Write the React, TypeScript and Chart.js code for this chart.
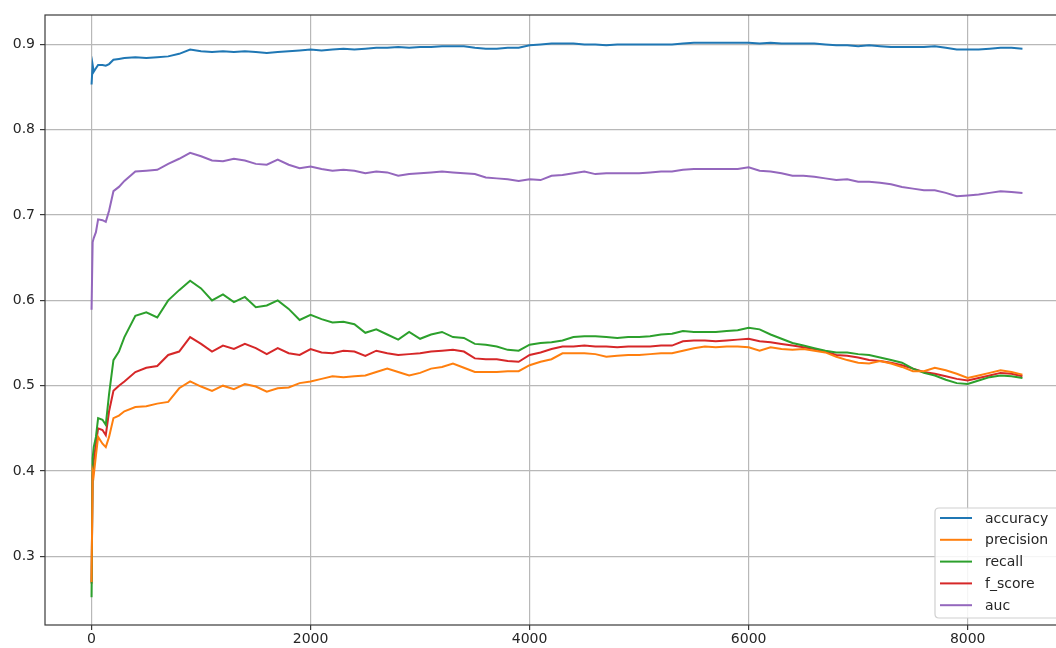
import React, { useEffect, useRef } from "react";
import { Chart, registerables } from "chart.js";

Chart.register(...registerables);

const steps = [
  0, 10, 20, 40, 60, 100, 130, 160, 200, 250,
  300, 400, 500, 600, 700, 800, 900, 1000, 1100, 1200, 1300, 1400, 1500, 1600, 1700, 1800, 1900,
  2000, 2100, 2200, 2300, 2400, 2500, 2600, 2700, 2800, 2900,
  3000, 3100, 3200, 3300, 3400, 3500, 3600, 3700, 3800, 3900,
  4000, 4100, 4200, 4300, 4400, 4500, 4600, 4700, 4800, 4900,
  5000, 5100, 5200, 5300, 5400, 5500, 5600, 5700, 5800, 5900,
  6000, 6100, 6200, 6300, 6400, 6500, 6600, 6700, 6800, 6900,
  7000, 7100, 7200, 7300, 7400, 7500, 7600, 7700, 7800, 7900,
  8000, 8100, 8200, 8300, 8400, 8500,
];

const accuracy = [
  0.853, 0.876, 0.868, 0.872, 0.876, 0.876, 0.875, 0.877, 0.882, 0.883,
  0.884, 0.885, 0.884, 0.885, 0.886, 0.889, 0.894, 0.892, 0.891, 0.892, 0.891, 0.892, 0.891, 0.890, 0.891, 0.892, 0.893,
  0.894, 0.893, 0.894, 0.895, 0.894, 0.895, 0.896, 0.896, 0.897, 0.896,
  0.897, 0.897, 0.898, 0.898, 0.898, 0.896, 0.895, 0.895, 0.896, 0.896,
  0.899, 0.900, 0.901, 0.901, 0.901, 0.900, 0.900, 0.899, 0.900, 0.900,
  0.900, 0.900, 0.900, 0.900, 0.901, 0.902, 0.902, 0.902, 0.902, 0.902,
  0.902, 0.901, 0.902, 0.901, 0.901, 0.901, 0.901, 0.900, 0.899, 0.899,
  0.898, 0.899, 0.898, 0.897, 0.897, 0.897, 0.897, 0.898, 0.896, 0.894,
  0.894, 0.894, 0.895, 0.896, 0.896, 0.895,
];

const precision = [
  0.270, 0.400, 0.395, 0.418, 0.440, 0.432, 0.428, 0.440, 0.462, 0.465,
  0.470, 0.475, 0.476, 0.479, 0.481, 0.497, 0.505, 0.499, 0.494, 0.500, 0.496, 0.502, 0.499, 0.493, 0.497, 0.498, 0.503,
  0.505, 0.508, 0.511, 0.510, 0.511, 0.512, 0.516, 0.520, 0.516, 0.512,
  0.515, 0.520, 0.522, 0.526, 0.521, 0.516, 0.516, 0.516, 0.517, 0.517,
  0.524, 0.528, 0.531, 0.538, 0.538, 0.538, 0.537, 0.534, 0.535, 0.536,
  0.536, 0.537, 0.538, 0.538, 0.541, 0.544, 0.546, 0.545, 0.546, 0.546,
  0.545, 0.541, 0.545, 0.543, 0.542, 0.543, 0.541, 0.539, 0.534, 0.530,
  0.527, 0.526, 0.529, 0.526, 0.522, 0.517, 0.517, 0.521, 0.518, 0.514,
  0.509, 0.512, 0.515, 0.518, 0.516, 0.513,
];

const recall = [
  0.252, 0.415, 0.428, 0.440, 0.462, 0.460, 0.454, 0.490, 0.530, 0.540,
  0.557, 0.582, 0.586, 0.580, 0.600, 0.612, 0.623, 0.614, 0.600, 0.607, 0.598, 0.604, 0.592, 0.594, 0.600, 0.590, 0.577,
  0.583, 0.578, 0.574, 0.575, 0.572, 0.562, 0.566, 0.560, 0.554, 0.563,
  0.555, 0.560, 0.563, 0.557, 0.556, 0.549, 0.548, 0.546, 0.542, 0.541,
  0.548, 0.550, 0.551, 0.553, 0.557, 0.558, 0.558, 0.557, 0.556, 0.557,
  0.557, 0.558, 0.560, 0.561, 0.564, 0.563, 0.563, 0.563, 0.564, 0.565,
  0.568, 0.566, 0.560, 0.555, 0.550, 0.547, 0.544, 0.541, 0.539, 0.539,
  0.537, 0.536, 0.533, 0.530, 0.527, 0.520, 0.515, 0.512, 0.507, 0.503,
  0.502, 0.506, 0.510, 0.512, 0.511, 0.509,
];

const fScore = [
  0.268, 0.395, 0.412, 0.432, 0.450, 0.448, 0.442, 0.470, 0.494, 0.500,
  0.505, 0.516, 0.521, 0.523, 0.536, 0.540, 0.557, 0.549, 0.540, 0.547, 0.543, 0.549, 0.544, 0.537, 0.544, 0.538, 0.536,
  0.543, 0.539, 0.538, 0.541, 0.540, 0.535, 0.541, 0.538, 0.536, 0.537,
  0.538, 0.540, 0.541, 0.542, 0.540, 0.532, 0.531, 0.531, 0.529, 0.528,
  0.536, 0.539, 0.543, 0.546, 0.546, 0.547, 0.546, 0.546, 0.545, 0.546,
  0.546, 0.546, 0.547, 0.547, 0.552, 0.553, 0.553, 0.552, 0.553, 0.554,
  0.555, 0.552, 0.551, 0.549, 0.547, 0.545, 0.543, 0.540, 0.536, 0.535,
  0.533, 0.530, 0.529, 0.527, 0.524, 0.520, 0.516, 0.514, 0.511, 0.508,
  0.506, 0.509, 0.512, 0.515, 0.514, 0.511,
];

const auc = [
  0.589, 0.668, 0.673, 0.680, 0.695, 0.694, 0.692, 0.705, 0.728, 0.733,
  0.740, 0.751, 0.752, 0.753, 0.760, 0.766, 0.773, 0.769, 0.764, 0.763, 0.766, 0.764, 0.760, 0.759, 0.765, 0.759, 0.755,
  0.757, 0.754, 0.752, 0.753, 0.752, 0.749, 0.751, 0.750, 0.746, 0.748,
  0.749, 0.750, 0.751, 0.750, 0.749, 0.748, 0.744, 0.743, 0.742, 0.740,
  0.742, 0.741, 0.746, 0.747, 0.749, 0.751, 0.748, 0.749, 0.749, 0.749,
  0.749, 0.750, 0.751, 0.751, 0.753, 0.754, 0.754, 0.754, 0.754, 0.754,
  0.756, 0.752, 0.751, 0.749, 0.746, 0.746, 0.745, 0.743, 0.741, 0.742,
  0.739, 0.739, 0.738, 0.736, 0.733, 0.731, 0.729, 0.729, 0.726, 0.722,
  0.723, 0.724, 0.726, 0.728, 0.727, 0.726,
];

const seriesLabels = ["accuracy", "precision", "recall", "f_score", "auc"];
const seriesColors = ["#1f77b4", "#ff7f0e", "#2ca02c", "#d62728", "#9467bd"];
const seriesValues = [accuracy, precision, recall, fScore, auc];

const xTicks = [0, 2000, 4000, 6000, 8000];
const yTicks = [0.3, 0.4, 0.5, 0.6, 0.7, 0.8, 0.9];

const FONT = "'DejaVu Sans', 'Liberation Sans', sans-serif";

const frameAndLegend = {
  id: "frameAndLegend",
  afterDatasetsDraw(chart: any) {
    const { ctx, chartArea } = chart;
    ctx.save();
    ctx.strokeStyle = "#3a3a3a";
    ctx.lineWidth = 1.2;
    ctx.strokeRect(chartArea.left, chartArea.top, chartArea.right - chartArea.left, chartArea.bottom - chartArea.top);
    ctx.restore();
  },
  afterDraw(chart: any) {
    const { ctx, chartArea } = chart;
    const ds = chart.data.datasets;
    const right = chartArea.right - 7;
    const bottom = chartArea.bottom - 7;
    const rowH = 21.8;
    const boxH = 110;
    const boxW = 127;
    const left = right - boxW;
    const top = bottom - boxH;
    ctx.save();
    ctx.beginPath();
    const r = 4;
    ctx.moveTo(left + r, top);
    ctx.lineTo(right - r, top);
    ctx.quadraticCurveTo(right, top, right, top + r);
    ctx.lineTo(right, bottom - r);
    ctx.quadraticCurveTo(right, bottom, right - r, bottom);
    ctx.lineTo(left + r, bottom);
    ctx.quadraticCurveTo(left, bottom, left, bottom - r);
    ctx.lineTo(left, top + r);
    ctx.quadraticCurveTo(left, top, left + r, top);
    ctx.closePath();
    ctx.fillStyle = "rgba(255,255,255,0.85)";
    ctx.fill();
    ctx.strokeStyle = "#d0d0d0";
    ctx.lineWidth = 1.2;
    ctx.stroke();
    ctx.font = "14px " + FONT;
    ctx.textBaseline = "middle";
    ctx.textAlign = "left";
    for (let i = 0; i < ds.length; i++) {
      const y = top + 10 + i * rowH;
      ctx.strokeStyle = ds[i].borderColor;
      ctx.lineWidth = 2;
      ctx.beginPath();
      ctx.moveTo(left + 5, y);
      ctx.lineTo(left + 37, y);
      ctx.stroke();
      ctx.fillStyle = "#262626";
      ctx.fillText(ds[i].label, left + 50, y + 1);
    }
    ctx.restore();
  },
};

export default function App() {
  const ref = useRef<HTMLCanvasElement | null>(null);

  useEffect(() => {
    if (!ref.current) return;
    const datasets = seriesLabels.map((label, i) => ({
      label,
      data: steps.map((x, j) => ({ x, y: seriesValues[i][j] })),
      borderColor: seriesColors[i],
      backgroundColor: seriesColors[i],
      borderWidth: 2,
      pointRadius: 0,
      tension: 0,
      fill: false,
    }));

    const chart = new Chart(ref.current, {
      type: "line",
      data: { datasets },
      plugins: [frameAndLegend],
      options: {
        animation: false,
        responsive: false,
        maintainAspectRatio: false,
        layout: { padding: { top: 15, right: 11, left: 0, bottom: 0 } },
        plugins: { legend: { display: false }, tooltip: { enabled: false } },
        scales: {
          x: {
            type: "linear",
            min: -425,
            max: 8925,
            afterBuildTicks: (scale: any) => {
              scale.ticks = xTicks.map((v) => ({ value: v }));
            },
            afterFit: (scale: any) => {
              scale.height = 23;
            },
            ticks: {
              callback: (v: any) => String(v),
              color: "#262626",
              font: { family: FONT, size: 14 },
              padding: 1,
              maxRotation: 0,
              autoSkip: false,
            },
            grid: {
              color: "#b8b8b8",
              lineWidth: 1.2,
              drawTicks: true,
              tickLength: 5,
              tickColor: "#3a3a3a",
            },
            border: { display: false },
          },
          y: {
            type: "linear",
            min: 0.2195,
            max: 0.9345,
            afterBuildTicks: (scale: any) => {
              scale.ticks = yTicks.map((v) => ({ value: v }));
            },
            afterFit: (scale: any) => {
              scale.width = 45;
            },
            ticks: {
              callback: (v: any) => Number(v).toFixed(1),
              color: "#262626",
              font: { family: FONT, size: 14 },
              padding: 5,
              autoSkip: false,
            },
            grid: {
              color: "#b8b8b8",
              lineWidth: 1.2,
              drawTicks: true,
              tickLength: 5,
              tickColor: "#3a3a3a",
            },
            border: { display: false },
          },
        },
      },
    });
    return () => chart.destroy();
  }, []);

  return (
    <div
      style={{
        position: "fixed",
        left: 0,
        top: 0,
        width: 1056,
        height: 648,
        overflow: "hidden",
        background: "#ffffff",
      }}
    >
      <canvas ref={ref} width={1080} height={648} style={{ display: "block" }} />
    </div>
  );
}
